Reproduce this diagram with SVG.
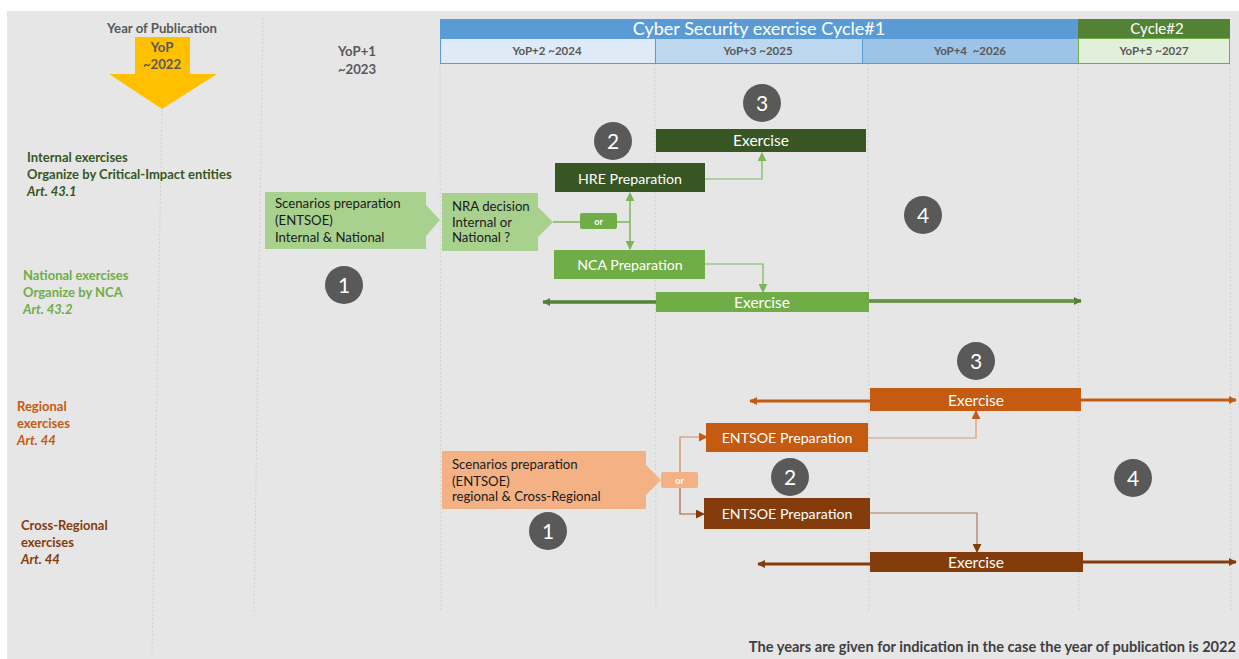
<svg xmlns="http://www.w3.org/2000/svg" width="1239" height="659" viewBox="0 0 1239 659">
  <defs>
    <style>
      text { font-family: Lato, "Open Sans", "Liberation Sans", sans-serif; }
      .hd { font-size: 11.5px; font-weight: bold; fill: #595959; text-anchor: middle; }
      .pub { font-size: 13.2px; font-weight: bold; fill: #595959; text-anchor: middle; }
      .lbl { font-size: 13px; font-weight: bold; }
      .it { font-style: italic; }
      .box { font-size: 14.2px; fill: #ffffff; text-anchor: middle; }
      .ex { font-size: 15.5px; fill: #ffffff; text-anchor: middle; }
      .dark { font-size: 13.2px; fill: #1a1a1a; }
      .num { font-size: 21px; fill: #ffffff; text-anchor: middle; }
      .or { font-size: 9px; font-weight: bold; fill: #ffffff; text-anchor: middle; }
      .grid { stroke: #d2d2d2; stroke-width: 1; stroke-dasharray: 2 2; fill: none; }
      .badge { fill: #595959; }
    </style>
    <marker id="ahLGs" viewBox="0 0 10 10" refX="9" refY="5" markerWidth="9" markerHeight="9" orient="auto-start-reverse" markerUnits="userSpaceOnUse">
      <path d="M0,0 L10,5 L0,10 z" fill="#7cb55a"/>
    </marker>
    <marker id="ahDG" viewBox="0 0 10 10" refX="9" refY="5" markerWidth="8" markerHeight="8" orient="auto-start-reverse" markerUnits="userSpaceOnUse">
      <path d="M0,0 L10,5 L0,10 z" fill="#548235"/>
    </marker>
    <marker id="ahOR" viewBox="0 0 10 10" refX="9" refY="5" markerWidth="8" markerHeight="8" orient="auto-start-reverse" markerUnits="userSpaceOnUse">
      <path d="M0,0 L10,5 L0,10 z" fill="#c55a11"/>
    </marker>
    <marker id="ahORs" viewBox="0 0 10 10" refX="9" refY="5" markerWidth="9" markerHeight="9" orient="auto-start-reverse" markerUnits="userSpaceOnUse">
      <path d="M0,0 L10,5 L0,10 z" fill="#c55a11"/>
    </marker>
    <marker id="ahBR" viewBox="0 0 10 10" refX="9" refY="5" markerWidth="8" markerHeight="8" orient="auto-start-reverse" markerUnits="userSpaceOnUse">
      <path d="M0,0 L10,5 L0,10 z" fill="#843c0c"/>
    </marker>
    <marker id="ahBRs" viewBox="0 0 10 10" refX="9" refY="5" markerWidth="9" markerHeight="9" orient="auto-start-reverse" markerUnits="userSpaceOnUse">
      <path d="M0,0 L10,5 L0,10 z" fill="#843c0c"/>
    </marker>
  </defs>

  <!-- canvas -->
  <rect x="0" y="0" width="1239" height="659" fill="#ffffff"/>
  <rect x="7" y="11" width="1232" height="648" fill="#e6e6e6"/>

  <!-- year grid lines -->
  <g id="grid">
    <line class="grid" x1="162" y1="110" x2="152" y2="655"/>
    <line class="grid" x1="263" y1="18" x2="254" y2="612"/>
    <line class="grid" x1="440" y1="64" x2="441" y2="612"/>
    <line class="grid" x1="655" y1="64" x2="656" y2="612"/>
    <line class="grid" x1="868" y1="64" x2="869" y2="612"/>
    <line class="grid" x1="1078" y1="64" x2="1079" y2="612"/>
    <line class="grid" x1="1230" y1="64" x2="1231" y2="612"/>
  </g>

  <!-- timeline header -->
  <g id="header">
    <rect x="440" y="19" width="638" height="19" fill="#5b9bd5"/>
    <text x="759" y="35" font-size="18" fill="#ffffff" text-anchor="middle">Cyber Security exercise Cycle#1</text>
    <rect x="1078" y="19" width="152" height="19" fill="#548235"/>
    <text x="1157" y="34" font-size="15" fill="#ffffff" text-anchor="middle">Cycle#2</text>
    <rect x="440.5" y="38.5" width="215" height="25" fill="#deebf7" stroke="#5b9bd5"/>
    <rect x="655.5" y="38.5" width="207" height="25" fill="#bdd7ee" stroke="#5b9bd5"/>
    <rect x="862.5" y="38.5" width="216" height="25" fill="#9dc3e6" stroke="#5b9bd5"/>
    <rect x="1078.5" y="38.5" width="151" height="25" fill="#e2efda" stroke="#70ad47"/>
    <text class="hd" x="547" y="55">YoP+2 ~2024</text>
    <text class="hd" x="758" y="55">YoP+3 ~2025</text>
    <text class="hd" x="970" y="55" xml:space="preserve">YoP+4  ~2026</text>
    <text class="hd" x="1154" y="55">YoP+5 ~2027</text>
  </g>

  <g id="publication">
    <text class="pub" x="162" y="33">Year of Publication</text>
    <path d="M135,37 H190 V74 H217 L162,109 L109,74 H135 Z" fill="#ffc000"/>
    <text class="pub" x="162" y="52">YoP</text>
    <text class="pub" x="162" y="69">~2022</text>
    <text class="pub" x="357" y="56">YoP+1</text>
    <text class="pub" x="357" y="74">~2023</text>
  </g>

  <!-- row labels -->
  <g id="label-internal">
    <text class="lbl" x="27" y="162" fill="#375623">Internal exercises</text>
    <text class="lbl" x="27" y="179" fill="#375623">Organize by Critical-Impact entities</text>
    <text class="lbl it" x="27" y="196" fill="#375623">Art. 43.1</text>
  </g>
  <g id="label-national">
    <text class="lbl" x="23" y="280" fill="#70ad47">National exercises</text>
    <text class="lbl" x="23" y="297" fill="#70ad47">Organize by NCA</text>
    <text class="lbl it" x="23" y="314" fill="#70ad47">Art. 43.2</text>
  </g>
  <g id="label-regional">
    <text class="lbl" x="17" y="411" fill="#c55a11">Regional</text>
    <text class="lbl" x="17" y="428" fill="#c55a11">exercises</text>
    <text class="lbl it" x="17" y="445" fill="#c55a11">Art. 44</text>
  </g>
  <g id="label-crossregional">
    <text class="lbl" x="21" y="530" fill="#843c0c">Cross-Regional</text>
    <text class="lbl" x="21" y="547" fill="#843c0c">exercises</text>
    <text class="lbl it" x="21" y="564" fill="#843c0c">Art. 44</text>
  </g>

  <!-- connectors -->
  <g id="connectors" fill="none">
    <!-- internal / national decision -->
    <polyline points="553,222 630,222" stroke="#7cb55a" stroke-width="1.5"/>
    <line x1="630" y1="222" x2="630" y2="193" stroke="#7cb55a" stroke-width="1.5" marker-end="url(#ahLGs)"/>
    <line x1="630" y1="222" x2="630" y2="249" stroke="#7cb55a" stroke-width="1.5" marker-end="url(#ahLGs)"/>
    <polyline points="705,179 762,179 762,153" stroke="#7cb55a" stroke-width="1.2" marker-end="url(#ahLGs)"/>
    <polyline points="705,264 763,264 763,292" stroke="#7cb55a" stroke-width="1.2" marker-end="url(#ahLGs)"/>
    <line x1="656" y1="302" x2="543" y2="302" stroke="#548235" stroke-width="3.5" marker-end="url(#ahDG)"/>
    <line x1="869" y1="301" x2="1081" y2="301" stroke="#548235" stroke-width="3.5" marker-end="url(#ahDG)"/>
    <line x1="869" y1="301" x2="1075" y2="301" stroke="#70ad47" stroke-width="1"/>

    <!-- regional / cross-regional split -->
    <polyline points="698,480 680,480" stroke="#d7885a" stroke-width="1.2"/>
    <polyline points="680,480 680,437 707,437" stroke="#d7885a" stroke-width="1.2" marker-end="url(#ahORs)"/>
    <polyline points="680,480 680,514 704,514" stroke="#a6633c" stroke-width="1.2" marker-end="url(#ahBRs)"/>
    <polyline points="868,438 976,438 976,411" stroke="#e09a70" stroke-width="1.2" marker-end="url(#ahORs)"/>
    <polyline points="870,513 977,513 977,552" stroke="#b07a5a" stroke-width="1.2" marker-end="url(#ahBRs)"/>
    <line x1="870" y1="401" x2="750" y2="401" stroke="#c55a11" stroke-width="3" marker-end="url(#ahOR)"/>
    <line x1="1081" y1="400" x2="1236" y2="400" stroke="#c55a11" stroke-width="3" marker-end="url(#ahOR)"/>
    <line x1="870" y1="564" x2="758" y2="564" stroke="#843c0c" stroke-width="3" marker-end="url(#ahBR)"/>
    <line x1="1083" y1="562" x2="1236" y2="562" stroke="#843c0c" stroke-width="3" marker-end="url(#ahBR)"/>
  </g>

  <!-- internal & national nodes -->
  <g id="scenarios-national">
    <path d="M265,192 H426 V205 L440,220 L426,236 V249 H265 Z" fill="#a9d18e"/>
    <text class="dark" x="275" y="208">Scenarios preparation</text>
    <text class="dark" x="275" y="225">(ENTSOE)</text>
    <text class="dark" x="275" y="242">Internal &amp; National</text>
  </g>
  <g id="nra-decision">
    <path d="M442,193 H538 V207 L553,222 L538,237 V251 H442 Z" fill="#a9d18e"/>
    <text class="dark" x="452" y="211" font-size="12.5">NRA decision</text>
    <text class="dark" x="452" y="227" font-size="11">Internal or</text>
    <text class="dark" x="452" y="242" font-size="11">National ?</text>
  </g>
  <g id="or-national">
    <rect x="580" y="213" width="37" height="16" rx="2" fill="#70ad47"/>
    <text class="or" x="598.5" y="224.5">or</text>
  </g>
  <g id="hre-preparation">
    <rect x="555" y="163" width="150" height="29" fill="#375623"/>
    <text class="box" x="630" y="184">HRE Preparation</text>
  </g>
  <g id="internal-exercise">
    <rect x="656" y="129" width="210" height="23" fill="#375623"/>
    <text class="ex" x="761" y="146">Exercise</text>
  </g>
  <g id="nca-preparation">
    <rect x="554" y="250" width="151" height="29" fill="#70ad47"/>
    <text class="box" x="630" y="270">NCA Preparation</text>
  </g>
  <g id="national-exercise">
    <rect x="656" y="292" width="213" height="20" fill="#70ad47"/>
    <text class="ex" x="762" y="308">Exercise</text>
  </g>

  <!-- regional & cross-regional nodes -->
  <g id="scenarios-regional">
    <path d="M442,451 H646 V465 L661,480 L646,495 V509 H442 Z" fill="#f4b183"/>
    <text class="dark" x="452" y="469">Scenarios preparation</text>
    <text class="dark" x="452" y="486">(ENTSOE)</text>
    <text class="dark" x="452" y="501" font-size="10.5">regional &amp; Cross-Regional</text>
  </g>
  <g id="or-regional">
    <rect x="661" y="472" width="37" height="16" rx="2" fill="#f4b183"/>
    <text class="or" x="679.5" y="483.5">or</text>
  </g>
  <g id="entsoe-regional">
    <rect x="706" y="423" width="162" height="29" fill="#c55a11"/>
    <text class="box" x="787" y="443">ENTSOE Preparation</text>
  </g>
  <g id="entsoe-crossregional">
    <rect x="704" y="498" width="166" height="31" fill="#843c0c"/>
    <text class="box" x="787" y="519">ENTSOE Preparation</text>
  </g>
  <g id="regional-exercise">
    <rect x="870" y="388" width="211" height="23" fill="#c55a11"/>
    <text class="ex" x="976" y="406">Exercise</text>
  </g>
  <g id="crossregional-exercise">
    <rect x="870" y="552" width="213" height="20" fill="#843c0c"/>
    <text class="ex" x="976" y="568">Exercise</text>
  </g>

  <!-- step badges -->
  <g id="step-1-national"><circle class="badge" cx="344" cy="285" r="19"/><text class="num" x="344" y="292.5">1</text></g>
  <g id="step-2-national"><circle class="badge" cx="613" cy="141" r="19"/><text class="num" x="613" y="148.5">2</text></g>
  <g id="step-3-national"><circle class="badge" cx="762" cy="103" r="19"/><text class="num" x="762" y="110.5">3</text></g>
  <g id="step-4-national"><circle class="badge" cx="923" cy="215" r="19"/><text class="num" x="923" y="222.5">4</text></g>
  <g id="step-1-regional"><circle class="badge" cx="548" cy="531" r="19"/><text class="num" x="548" y="538.5">1</text></g>
  <g id="step-2-regional"><circle class="badge" cx="790" cy="477" r="19"/><text class="num" x="790" y="484.5">2</text></g>
  <g id="step-3-regional"><circle class="badge" cx="976" cy="361" r="19"/><text class="num" x="976" y="368.5">3</text></g>
  <g id="step-4-regional"><circle class="badge" cx="1133" cy="478" r="19"/><text class="num" x="1133" y="485.5">4</text></g>

  <text x="1236" y="652" font-size="14.6" font-weight="bold" fill="#404040" text-anchor="end">The years are given for indication in the case the year of publication is 2022</text>
</svg>
